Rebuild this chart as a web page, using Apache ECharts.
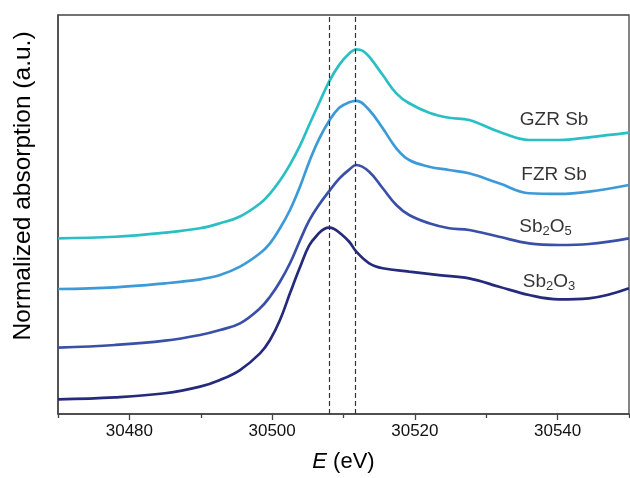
<!DOCTYPE html>
<html>
<head>
<meta charset="utf-8">
<script src="https://cdn.jsdelivr.net/npm/echarts@6/dist/echarts.min.js"></script>
<style>html,body{margin:0;padding:0;background:#fff;}#c{width:630px;height:478px;}</style>
</head>
<body>
<div id="c"></div>
<script>
// Energy (eV) and normalized absorption (offset, a.u.)
const gzrE = [30470, 30478, 30485, 30489.9, 30492.7, 30495.5, 30498.3, 30499.7, 30501.1, 30502.5, 30503.9, 30505.2, 30506.6, 30508.0, 30509.4, 30510.8, 30511.8, 30512.7, 30513.6, 30515.5, 30517.4, 30519.2, 30522.0, 30524.8, 30527.6, 30531.8, 30536.0, 30540.2, 30544.4, 30550];
const gzrY = [1.761, 1.777, 1.818, 1.862, 1.912, 1.980, 2.110, 2.210, 2.340, 2.500, 2.690, 2.900, 3.120, 3.335, 3.500, 3.615, 3.656, 3.640, 3.582, 3.398, 3.215, 3.115, 3.021, 2.970, 2.947, 2.830, 2.747, 2.747, 2.774, 2.820];

const fzrE = [30470, 30478, 30485, 30489.9, 30492.7, 30495.5, 30498.3, 30499.7, 30501.1, 30502.5, 30503.9, 30505.2, 30506.6, 30508.0, 30509.4, 30510.8, 30511.8, 30513.6, 30515.5, 30517.4, 30519.2, 30522.0, 30524.8, 30527.6, 30531.8, 30536.0, 30540.2, 30544.4, 30550];
const fzrY = [1.253, 1.270, 1.310, 1.350, 1.393, 1.477, 1.611, 1.711, 1.862, 2.045, 2.279, 2.530, 2.760, 2.940, 3.070, 3.125, 3.140, 3.048, 2.864, 2.664, 2.546, 2.479, 2.446, 2.413, 2.313, 2.213, 2.206, 2.229, 2.296];

const sb2o5E = [30470, 30478, 30485, 30489.9, 30492.7, 30495.5, 30498.3, 30499.7, 30501.1, 30502.5, 30503.9, 30505.2, 30506.6, 30508.0, 30509.4, 30510.8, 30511.8, 30513.6, 30515.5, 30517.4, 30519.2, 30522.0, 30524.8, 30527.6, 30531.8, 30536.0, 30540.2, 30544.4, 30550];
const sb2o5Y = [0.665, 0.692, 0.735, 0.792, 0.842, 0.909, 1.060, 1.176, 1.326, 1.511, 1.740, 1.940, 2.100, 2.235, 2.360, 2.450, 2.496, 2.429, 2.263, 2.095, 1.995, 1.912, 1.862, 1.845, 1.777, 1.711, 1.694, 1.704, 1.761];

const sb2o3E = [30470, 30478, 30485, 30489.9, 30492.7, 30495.5, 30498.3, 30499.7, 30501.1, 30502.5, 30503.9, 30505.2, 30506.6, 30507.3, 30508.0, 30508.7, 30509.4, 30510.8, 30511.8, 30513.6, 30515.5, 30519.2, 30523.4, 30527.6, 30531.8, 30536.0, 30540.2, 30544.4, 30550];
const sb2o3Y = [0.147, 0.167, 0.208, 0.274, 0.341, 0.441, 0.608, 0.742, 0.942, 1.210, 1.470, 1.690, 1.815, 1.855, 1.868, 1.855, 1.820, 1.727, 1.627, 1.511, 1.461, 1.427, 1.393, 1.360, 1.276, 1.193, 1.150, 1.160, 1.260];

const seriesNames = ['GZR Sb', 'FZR Sb', 'Sb2O5', 'Sb2O3'];
const labelRich = ['{a|GZR Sb}', '{a|FZR Sb}', '{a|Sb}{s|2}{a|O}{s|5}', '{a|Sb}{s|2}{a|O}{s|3}'];
const labelE = [30539.5, 30539.5, 30538.3, 30538.8];   // label anchor energy
const labelY = [2.95, 2.40, 1.88, 1.33];                 // label anchor height
const colors = ['#2bbfc4', '#3d9ad9', '#3a50a8', '#262a7b'];
const refLines = [30508.0, 30511.6];
const majorTicks = [30480, 30500, 30520, 30540];
const minorTicks = [30470, 30490, 30510, 30530, 30550];
const xMin = 30470, xMax = 30550, yMin = 0, yMax = 4;

const pairs = (xs, ys) => xs.map((x, i) => [x, ys[i]]);
const allData = [pairs(gzrE, gzrY), pairs(fzrE, fzrY), pairs(sb2o5E, sb2o5Y), pairs(sb2o3E, sb2o3Y)];

const chart = echarts.init(document.getElementById('c'), null, {renderer: 'canvas'});
const FONT = 'Liberation Sans, Arial, sans-serif';

const series = allData.map((d, i) => ({
  name: seriesNames[i],
  type: 'line',
  data: d,
  smooth: 0.4,
  showSymbol: false,
  symbol: 'none',
  xAxisIndex: 0,
  lineStyle: {color: colors[i], width: 2.7},
  z: 3
}));
series[0].markLine = {
  silent: true,
  symbol: ['none', 'none'],
  label: {show: false},
  lineStyle: {color: '#333', type: [5, 3], width: 1.2},
  data: refLines.map(v => ({xAxis: v}))
};
// text labels drawn at data coordinates
const txt = {fontFamily: FONT, color: '#000', textBorderWidth: 0, textBorderColor: 'transparent', textShadowBlur: 0};
series.push({
  type: 'scatter',
  xAxisIndex: 0,
  data: labelE.map((e, i) => [e, labelY[i]]),
  symbolSize: 0,
  silent: true,
  itemStyle: {color: '#000'},
  label: Object.assign({
    show: true,
    position: 'inside',
    fontSize: 19,
    formatter: p => labelRich[p.dataIndex],
    rich: {
      a: Object.assign({fontSize: 19}, txt),
      s: Object.assign({fontSize: 13, padding: [10, 0, 0, 0]}, txt)
    }
  }, txt),
  z: 5
});

chart.setOption({
  backgroundColor: '#fff',
  animation: false,
  grid: {left: 58, right: 1, top: 15, bottom: 64, show: true, borderColor: '#444', borderWidth: 1.3, backgroundColor: 'transparent'},
  xAxis: [{
    type: 'value', min: xMin, max: xMax,
    name: '{i|E} (eV)', nameLocation: 'middle', nameGap: 37,
    nameTextStyle: {fontSize: 22, fontFamily: FONT, color: '#000', rich: {i: {fontStyle: 'italic', fontSize: 22, fontFamily: FONT, color: '#000'}}},
    axisLine: {show: true, lineStyle: {color: '#444', width: 1.5}},
    axisTick: {show: true, inside: false, length: 6, lineStyle: {color: '#444', width: 1.3}, customValues: majorTicks},
    axisLabel: {show: true, fontSize: 17, fontFamily: FONT, color: '#111', margin: 9, customValues: majorTicks, formatter: v => String(v)},
    splitLine: {show: false}
  }, {
    type: 'value', min: xMin, max: xMax, position: 'bottom',
    axisLine: {show: false},
    axisTick: {show: true, inside: false, length: 4, lineStyle: {color: '#444', width: 1.3}, customValues: minorTicks},
    axisLabel: {show: false},
    splitLine: {show: false}
  }],
  yAxis: {
    type: 'value', min: yMin, max: yMax,
    axisLine: {show: true, lineStyle: {color: '#444', width: 1.5}},
    axisTick: {show: false}, axisLabel: {show: false}, splitLine: {show: false}
  },
  graphic: [{
    type: 'text',
    x: 23, y: 186,
    rotation: Math.PI / 2,
    style: {text: 'Normalized absorption (a.u.)', fontSize: 24.5, fontFamily: FONT, fill: '#000', align: 'center', verticalAlign: 'middle'}
  }],
  series: series
});
</script>
</body>
</html>
